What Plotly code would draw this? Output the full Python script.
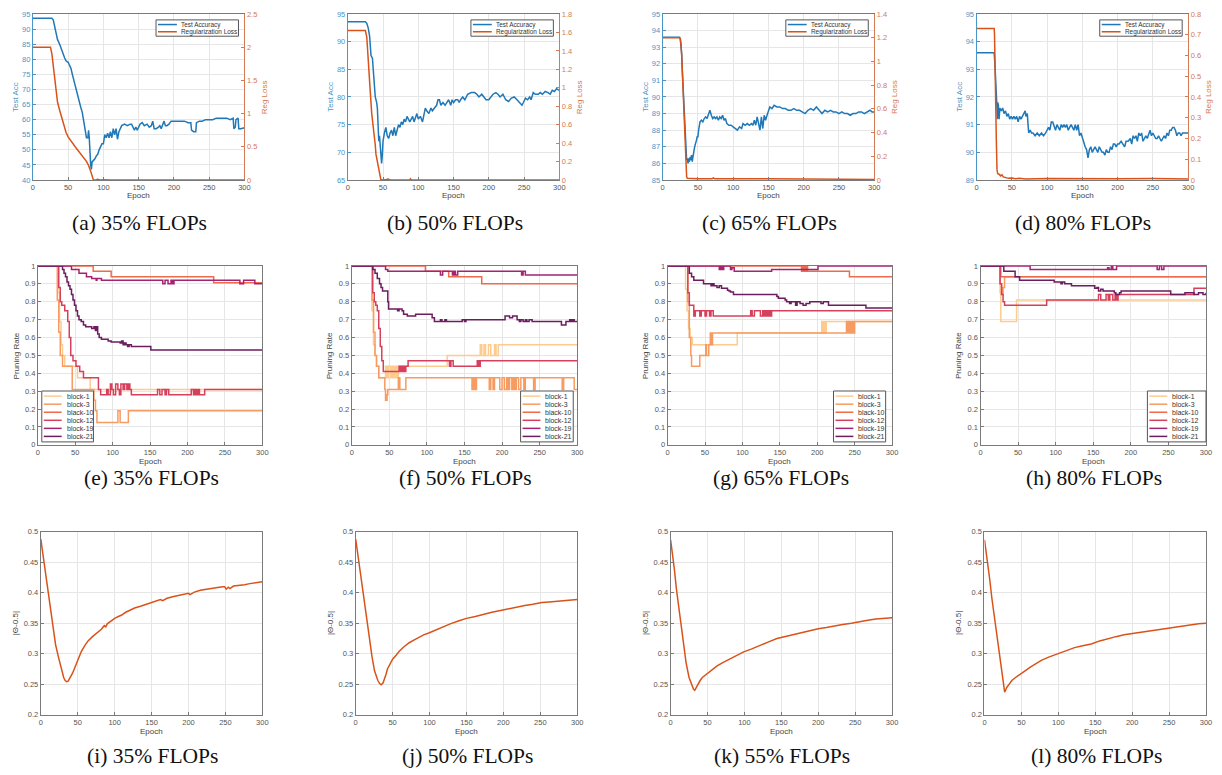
import plotly.graph_objects as go

W, H = 1222, 775
OFF = 8                     # default page margin of the browser body
FW, FH = W - 2 * OFF, H - OFF

# ---------------- Row 1 data: test accuracy / regularization loss ----------------
acc_a = [(0,93.6),(27,93.6),(29,93),(31,91),(33,88),(35,86.5),(38,85),(40,83.5),(43,82),(45,80.5),(47,79.5),(50,79),(52,78),(54,77),(56,75),(58,73),(60,71),(62,69.5),(64,67.5),(66,65.5),(68,64),(70,62.5),(72,60),(74,57),(75,55),(76,54),(78,54),(79,56.5),(80,54),(81,47),(82,45),(83,43.5),(84,46),(86,46.5),(88,47),(90,48),(92,48.5),(94,50),(96,51),(98,52),(100,52),(102,55),(104,54),(106,55.5),(108,54),(110,56),(112,54),(114,57),(116,55),(118,57),(120,53.5),(122,56),(124,57),(126,58),(130,58.5),(134,58),(138,58.5),(140,58.5),(142,57.5),(144,56.5),(146,57.5),(148,56.5),(150,57.5),(152,58.5),(155,59),(158,58),(162,58.5),(165,57.5),(168,58),(170,59.5),(172,57),(175,57),(178,57.5),(180,58),(182,57),(184,58.5),(186,59.5),(188,58),(190,58),(193,58.5),(196,59.5),(200,59.5),(205,59.5),(210,59.5),(215,59.5),(220,59),(224,59),(225,56.5),(228,56),(231,56),(232,59),(236,59.5),(240,59.5),(245,60),(250,60),(255,60),(260,60.5),(265,60.5),(270,60.5),(275,60.5),(280,60),(284,60.5),(285,57),(287,57.5),(288,60),(291,60.5),(292,57),(295,57),(300,57.3)]
reg_a = [(0,2.0),(25,2.0),(27,1.9),(29,1.7),(31,1.5),(33,1.3),(35,1.17),(38,1.05),(41,0.93),(44,0.82),(47,0.72),(50,0.65),(53,0.6),(56,0.55),(60,0.5),(63,0.46),(66,0.42),(70,0.37),(73,0.33),(76,0.28),(79,0.22),(81,0.17),(83,0.1),(85,0.03),(86,0.0),(90,0.005),(92,0.01),(95,0.0),(100,0.005),(110,0.0),(120,0.005),(130,0.0),(300,0.0)]

acc_b = [(0,93.6),(25,93.6),(27,93.3),(29,92.5),(31,91),(32,89),(33,87.5),(35,87),(36,85.5),(38,82),(39,80),(41,79),(42,78),(43,75),(44,72),(45,73),(46,71.5),(47,70),(48,68),(49,69.5),(50,72),(52,73.5),(54,74.5),(56,73),(58,72.5),(60,73.5),(62,74),(64,73),(66,74.5),(68,73),(70,74),(72,75),(74,74.5),(76,75.5),(78,75),(80,76),(82,75.5),(84,76.5),(86,76),(88,75.5),(90,76),(92,76.5),(94,75.5),(96,76.5),(98,77),(100,76),(103,76.5),(106,75.5),(108,76.5),(110,78),(112,77.5),(115,77),(118,78),(120,77.5),(123,78),(126,78.5),(128,79.5),(130,79.5),(132,78.5),(135,79),(138,78.5),(140,79),(143,79.5),(146,78.5),(148,79.5),(150,79),(153,79.5),(156,79.5),(158,79),(160,79.5),(163,80),(166,79.5),(170,80.5),(175,80.8),(180,80.8),(183,80.5),(186,80),(190,80.5),(193,80),(196,79.5),(200,79.5),(203,80),(206,80.5),(210,80.8),(213,80.5),(216,80),(220,80.5),(224,79.5),(228,79.2),(232,79.8),(236,80),(240,79.5),(244,79),(247,78.5),(249,79),(252,79.8),(255,79.5),(258,80),(260,79.5),(263,80.8),(266,80.5),(270,80.5),(273,80.8),(276,80.5),(280,81),(284,80.8),(287,80.5),(290,81.2),(293,81),(296,81.5),(300,81.2)]
reg_b = [(0,1.62),(25,1.62),(27,1.55),(28,1.45),(30,1.2),(32,0.95),(34,0.72),(36,0.6),(38,0.48),(39,0.38),(40,0.28),(42,0.2),(44,0.12),(46,0.04),(47,0.0),(55,0.005),(57,0.01),(60,0.0),(88,0.0),(89,0.012),(90,0.0),(300,0.0)]

acc_c = [(0,93.6),(24,93.6),(25,93.5),(26,93.2),(27,92.6),(28,91.5),(29,90.5),(30,89.3),(31,88.3),(32,87.3),(33,86.6),(34,86.2),(35,86.3),(36,86.0),(37,86.3),(38,86.1),(39,86.4),(40,86.2),(41,86.5),(42,86.1),(43,86.4),(44,86.8),(45,86.9),(46,87.1),(47,87.2),(48,87.4),(49,87.6),(50,87.6),(51,88.0),(52,88.4),(53,88.5),(55,88.6),(57,88.5),(59,88.7),(61,88.8),(63,88.7),(65,89.0),(67,89.2),(69,88.9),(71,88.7),(73,88.8),(75,88.7),(77,88.8),(79,88.6),(81,88.8),(83,88.7),(85,88.9),(87,88.6),(89,88.7),(91,88.4),(94,88.3),(97,88.3),(100,88.2),(103,88.1),(106,88.0),(109,88.2),(112,88.1),(114,88.4),(117,88.3),(120,88.4),(123,88.3),(126,88.4),(128,88.3),(130,88.6),(132,88.3),(134,88.8),(136,88.4),(138,88.0),(140,88.8),(142,88.1),(144,88.9),(146,88.6),(148,88.9),(150,89.2),(152,89.4),(155,89.3),(158,89.5),(162,89.4),(166,89.4),(170,89.3),(174,89.3),(178,89.2),(182,89.2),(186,89.3),(190,89.2),(194,89.2),(198,89.1),(202,89.0),(206,89.2),(210,89.3),(214,89.2),(218,89.4),(222,89.2),(226,89.0),(230,89.2),(234,89.1),(238,89.2),(242,89.1),(246,89.1),(250,89.0),(254,89.1),(258,89.0),(262,89.0),(266,88.9),(270,89.0),(274,89.0),(278,89.1),(282,89.1),(286,89.0),(290,89.1),(294,89.2),(297,89.1),(300,89.1)]
reg_c = [(0,1.2),(24,1.2),(25,1.19),(26,1.15),(27,1.05),(28,0.9),(29,0.75),(30,0.58),(31,0.42),(32,0.28),(33,0.12),(34,0.03),(35,0.015),(40,0.012),(45,0.008),(50,0.01),(70,0.01),(72,0.018),(74,0.01),(100,0.008),(150,0.01),(300,0.005)]

acc_d = [(0,93.6),(25,93.6),(26,93.2),(27,92.8),(28,92.0),(29,91.6),(29.5,91.2),(30,91.8),(31,91.7),(32,91.2),(33,91.6),(35,91.5),(37,91.6),(39,91.4),(41,91.5),(43,91.3),(45,91.4),(47,91.2),(49,91.3),(51,91.2),(53,91.3),(55,91.2),(57,91.3),(59,91.1),(61,91.3),(63,91.2),(65,91.3),(67,91.4),(69,91.5),(70,91.3),(72,91.4),(73,91.0),(74,90.7),(76,90.8),(78,90.7),(80,90.7),(83,90.6),(86,90.7),(89,90.6),(92,90.7),(95,90.6),(98,90.7),(100,90.8),(102,90.9),(104,90.8),(106,91.1),(108,91.1),(110,90.9),(112,90.8),(114,91.0),(116,90.9),(118,90.8),(120,91.0),(122,90.9),(124,91.0),(126,90.9),(128,91.0),(130,90.8),(132,90.9),(134,91.0),(136,90.9),(138,90.8),(140,91.0),(142,90.8),(144,91.0),(146,90.6),(148,90.7),(150,90.5),(152,90.3),(154,90.2),(156,90.1),(158,89.8),(160,90.1),(162,90.2),(164,90.0),(166,90.1),(168,90.2),(170,90.1),(172,90.0),(174,90.2),(176,90.1),(178,90.0),(180,90.0),(182,89.9),(184,90.1),(186,90.0),(188,90.0),(190,90.2),(192,90.1),(194,90.3),(196,90.3),(198,90.2),(200,90.3),(202,90.3),(205,90.4),(208,90.3),(210,90.2),(212,90.4),(215,90.4),(218,90.5),(220,90.3),(222,90.6),(224,90.5),(226,90.6),(228,90.4),(230,90.7),(232,90.6),(234,90.7),(236,90.4),(238,90.5),(240,90.6),(242,90.5),(244,90.7),(246,90.8),(248,90.6),(250,90.7),(252,90.6),(254,90.5),(256,90.5),(258,90.6),(260,90.5),(262,90.4),(264,90.5),(266,90.6),(268,90.5),(270,90.7),(272,90.6),(274,90.8),(276,90.8),(278,90.9),(280,90.9),(282,90.8),(284,90.6),(286,90.7),(288,90.7),(290,90.6),(292,90.7),(294,90.7),(297,90.7),(300,90.7)]
reg_d = [(0,0.73),(25,0.73),(25.5,0.7),(26,0.63),(26.5,0.55),(27,0.4),(27.5,0.3),(28,0.2),(28.5,0.1),(29,0.05),(30,0.03),(32,0.028),(34,0.02),(36,0.025),(38,0.015),(40,0.012),(45,0.008),(50,0.01),(55,0.006),(60,0.008),(70,0.005),(100,0.007),(150,0.005),(200,0.006),(250,0.007),(300,0.005)]

acc_ranges = [(40, 95, 5), (65, 95, 5), (85, 95, 1), (89, 95, 1)]
reg_ranges = [(0, 2.5, 0.5), (0, 1.8, 0.2), (0, 1.4, 0.2), (0, 0.8, 0.1)]

# ---------------- Row 2 data: pruning rate per block (step series) ----------------
block_names = ["block-1", "block-3", "black-10", "block-12", "block-19", "block-21"]
block_colors = ["#FDCB8E", "#F69C62", "#EE6B4D", "#D7405D", "#A52371", "#6B1D5E"]

prune_e = [
    [(0,1),(25,1),(27,0.85),(29,0.69),(31,0.56),(33,0.5),(36,0.44),(53,0.375),(70,0.31),(300,0.31)],
    [(0,1),(24,1),(26,0.81),(28,0.63),(30,0.5),(33,0.44),(46,0.31),(75,0.25),(77,0.19),(79,0.125),(107,0.19),(110,0.125),(121,0.19),(300,0.19)],
    [(0,1),(74,0.97),(98,0.94),(235,0.906),(300,0.906)],
    [(0,1),(26,1),(28,0.88),(30,0.8),(32,0.78),(36,0.75),(40,0.69),(42,0.6),(44,0.5),(47,0.47),(51,0.44),(56,0.41),(61,0.375),(81,0.31),(84,0.28),(92,0.31),(94,0.28),(97,0.34),(99,0.31),(101,0.28),(104,0.34),(107,0.31),(109,0.28),(111,0.34),(114,0.31),(116,0.34),(119,0.31),(121,0.34),(123,0.31),(125,0.28),(160,0.31),(163,0.28),(166,0.31),(170,0.28),(172,0.31),(175,0.28),(205,0.31),(208,0.28),(210,0.31),(212,0.28),(214,0.31),(216,0.28),(223,0.31),(300,0.31)],
    [(0,1),(45,0.98),(55,0.96),(65,0.94),(72,0.93),(78,0.92),(79,0.93),(85,0.92),(167,0.9),(170,0.92),(174,0.9),(178,0.92),(180,0.9),(182,0.92),(270,0.9),(275,0.92),(290,0.9),(300,0.9)],
    [(0,1),(33,0.98),(35,0.96),(37,0.94),(39,0.91),(41,0.89),(43,0.87),(45,0.84),(47,0.81),(49,0.78),(51,0.75),(53,0.72),(55,0.7),(58,0.69),(61,0.67),(64,0.66),(72,0.65),(75,0.66),(77,0.64),(78,0.66),(80,0.62),(82,0.6),(85,0.59),(94,0.58),(98,0.575),(110,0.57),(112,0.58),(114,0.56),(116,0.57),(118,0.56),(120,0.55),(122,0.56),(125,0.55),(151,0.53),(300,0.53)],
]
prune_f = [
    [(0,1),(25,1),(27,0.75),(29,0.56),(31,0.5),(33,0.44),(36,0.375),(45,0.44),(47,0.375),(49,0.44),(52,0.375),(54,0.44),(56,0.375),(58,0.44),(60,0.375),(62,0.44),(127,0.5),(171,0.56),(173,0.5),(176,0.56),(178,0.5),(182,0.56),(185,0.5),(190,0.56),(192,0.5),(195,0.56),(300,0.56)],
    [(0,1),(25,1),(27,0.81),(29,0.63),(31,0.5),(33,0.44),(36,0.375),(44,0.31),(45,0.25),(47,0.28),(48,0.31),(62,0.375),(64,0.31),(72,0.375),(160,0.31),(162,0.375),(164,0.31),(166,0.375),(183,0.31),(185,0.375),(188,0.31),(190,0.375),(197,0.31),(200,0.375),(203,0.31),(206,0.375),(208,0.31),(210,0.375),(213,0.31),(215,0.375),(217,0.31),(219,0.375),(222,0.31),(225,0.375),(229,0.31),(231,0.375),(242,0.31),(244,0.375),(280,0.31),(282,0.375),(296,0.31),(300,0.31)],
    [(0,1),(98,0.97),(129,0.94),(173,0.9),(300,0.9)],
    [(0,1),(27,1),(28,0.85),(30,0.8),(32,0.78),(34,0.75),(36,0.65),(38,0.55),(40,0.47),(42,0.41),(63,0.44),(64,0.41),(66,0.44),(67,0.41),(69,0.44),(70,0.41),(72,0.44),(75,0.47),(130,0.44),(132,0.47),(135,0.44),(167,0.47),(169,0.44),(171,0.47),(300,0.47)],
    [(0,1),(45,0.98),(48,0.97),(118,0.95),(121,0.97),(134,0.95),(136,0.97),(138,0.95),(141,0.97),(226,0.95),(228,0.97),(231,0.95),(300,0.95)],
    [(0,1),(28,0.98),(31,0.96),(34,0.93),(37,0.9),(39,0.88),(41,0.86),(48,0.8),(49,0.76),(61,0.75),(63,0.76),(67,0.75),(69,0.73),(74,0.72),(85,0.73),(107,0.71),(110,0.69),(118,0.7),(120,0.69),(124,0.7),(126,0.69),(147,0.7),(150,0.69),(152,0.7),(204,0.72),(210,0.71),(214,0.72),(220,0.7),(223,0.69),(225,0.7),(228,0.69),(231,0.7),(233,0.69),(236,0.7),(240,0.69),(279,0.67),(285,0.69),(290,0.7),(292,0.69),(294,0.7),(296,0.69),(300,0.69)],
]
prune_g = [
    [(0,1),(22,1),(24,0.87),(26,0.75),(28,0.65),(30,0.6),(33,0.56),(93,0.625),(206,0.69),(207,0.625),(209,0.69),(211,0.625),(212,0.69),(300,0.69)],
    [(0,1),(25,1),(27,0.8),(29,0.6),(31,0.5),(32,0.44),(43,0.5),(51,0.56),(52,0.5),(55,0.56),(57,0.625),(58,0.56),(60,0.625),(239,0.69),(241,0.625),(243,0.69),(245,0.625),(247,0.69),(249,0.625),(250,0.69),(300,0.69)],
    [(0,1),(179,0.97),(181,1),(183,0.97),(185,1),(187,0.97),(243,0.94),(300,0.94)],
    [(0,1),(25,1),(27,0.85),(29,0.78),(35,0.72),(37,0.75),(43,0.72),(45,0.75),(50,0.72),(52,0.75),(56,0.72),(58,0.75),(61,0.72),(111,0.75),(113,0.72),(116,0.75),(124,0.72),(127,0.75),(129,0.72),(131,0.75),(133,0.72),(135,0.75),(137,0.72),(139,0.75),(300,0.75)],
    [(0,1),(69,0.98),(71,1),(73,0.98),(75,1),(84,0.98),(86,0.99),(89,0.97),(139,0.98),(201,1),(300,1)],
    [(0,1),(27,1),(29,0.96),(32,0.94),(35,0.92),(48,0.9),(58,0.89),(60,0.9),(62,0.89),(66,0.88),(69,0.89),(72,0.875),(80,0.865),(82,0.86),(84,0.855),(88,0.84),(146,0.83),(148,0.82),(157,0.81),(159,0.8),(163,0.79),(165,0.8),(171,0.78),(173,0.8),(177,0.79),(181,0.78),(185,0.79),(190,0.8),(205,0.79),(208,0.8),(215,0.78),(265,0.765),(300,0.765)],
]
prune_h = [
    [(0,1),(24,1),(26,0.85),(27,0.69),(48,0.81),(300,0.81)],
    [(0,1),(24,1),(26,0.9),(28,0.84),(30,0.88),(32,0.94),(300,0.94)],
    [(0,1),(25,1),(27,0.94),(300,0.94)],
    [(0,1),(24,1),(26,0.9),(28,0.84),(30,0.8),(32,0.78),(88,0.81),(157,0.84),(160,0.81),(167,0.84),(170,0.81),(172,0.84),(176,0.81),(179,0.84),(181,0.81),(183,0.84),(284,0.875),(300,0.875)],
    [(0,1),(66,0.98),(169,0.99),(171,0.98),(174,1),(176,0.98),(181,1),(235,0.98),(238,1),(241,0.98),(244,1),(300,1)],
    [(0,1),(30,1),(31,0.97),(46,0.94),(52,0.92),(98,0.91),(107,0.9),(109,0.91),(112,0.9),(121,0.89),(152,0.875),(155,0.88),(157,0.86),(160,0.87),(163,0.86),(178,0.85),(180,0.84),(185,0.85),(187,0.86),(253,0.84),(272,0.85),(284,0.84),(290,0.85),(296,0.84),(300,0.85)],
]

# ---------------- Row 3 data: |Theta - 0.5| ----------------
theta_i = [(0,0.488),(2,0.47),(4,0.452),(7,0.425),(10,0.396),(14,0.362),(17,0.337),(20,0.315),(24,0.294),(28,0.272),(31,0.261),(33,0.256),(35,0.254),(37,0.255),(40,0.261),(43,0.268),(46,0.277),(50,0.29),(55,0.304),(60,0.314),(64,0.321),(70,0.328),(75,0.333),(82,0.34),(86,0.346),(88,0.344),(90,0.349),(95,0.354),(100,0.358),(105,0.361),(109,0.363),(115,0.368),(120,0.371),(127,0.375),(135,0.378),(142,0.381),(149,0.384),(156,0.386),(162,0.389),(165,0.387),(171,0.391),(180,0.394),(188,0.396),(194,0.397),(200,0.399),(202,0.397),(208,0.401),(216,0.404),(225,0.406),(232,0.407),(239,0.408),(246,0.41),(249,0.41),(251,0.406),(254,0.409),(256,0.407),(261,0.411),(270,0.412),(276,0.413),(283,0.415),(290,0.416),(300,0.418)]
theta_j = [(0,0.488),(2,0.47),(5.4,0.44),(8,0.415),(12,0.38),(16,0.345),(19,0.32),(22,0.296),(25.5,0.272),(28,0.262),(30,0.256),(32.5,0.251),(34.5,0.249),(37,0.252),(39,0.258),(41,0.266),(43,0.275),(46,0.283),(50,0.291),(55,0.298),(59,0.304),(65,0.311),(72.5,0.318),(80,0.323),(86,0.327),(92,0.331),(99,0.334),(108,0.339),(117,0.343),(128,0.349),(140,0.354),(150,0.358),(162,0.361),(173,0.365),(184.5,0.368),(196,0.371),(207,0.374),(218,0.377),(229,0.379),(240,0.381),(252,0.384),(262,0.385),(274,0.386),(287,0.388),(300,0.389)]
theta_k = [(0,0.487),(2,0.47),(5,0.44),(8,0.405),(11.6,0.37),(15,0.34),(18,0.31),(21,0.285),(25,0.261),(28,0.25),(29.6,0.245),(31,0.242),(32.7,0.24),(34,0.243),(36,0.249),(40,0.256),(43,0.261),(50,0.268),(56,0.274),(63,0.28),(70,0.285),(76.6,0.289),(88,0.296),(99,0.303),(110,0.308),(121,0.314),(132,0.319),(144,0.325),(155,0.328),(166,0.331),(177,0.335),(188.5,0.338),(200,0.341),(211,0.343),(222,0.346),(233,0.348),(245,0.35),(256,0.353),(267,0.355),(278,0.357),(289,0.358),(300,0.359)]
theta_l = [(0,0.487),(2,0.47),(3.6,0.456),(7,0.423),(10,0.391),(14,0.355),(17,0.326),(20,0.298),(23.7,0.267),(26,0.248),(27.3,0.237),(28.5,0.24),(30.4,0.245),(34,0.251),(37,0.256),(42,0.261),(46,0.264),(50,0.268),(55,0.272),(62,0.278),(68.5,0.283),(77,0.289),(86,0.294),(93,0.297),(100,0.3),(111,0.305),(122,0.31),(133,0.313),(144.6,0.316),(156,0.321),(167,0.325),(178,0.328),(189,0.331),(200,0.333),(212,0.336),(223,0.338),(234,0.34),(245,0.342),(256.6,0.344),(268,0.346),(279,0.347),(290,0.349),(300,0.35)]

captions_row1 = ["(a) 35% FLOPs", "(b) 50% FLOPs", "(c) 65% FLOPs", "(d) 80% FLOPs"]
captions_row2 = ["(e) 35% FLOPs", "(f) 50% FLOPs", "(g) 65% FLOPs", "(h) 80% FLOPs"]
captions_row3 = ["(i) 35% FLOPs", "(j) 50% FLOPs", "(k) 55% FLOPs", "(l) 80% FLOPs"]

# ---------------- layout geometry (pixels on the page) ----------------
row1_x = [(31, 244), (348, 561), (665, 878), (981, 1194)]
row2_x = [(36, 262), (352, 579), (670, 896), (985, 1212)]
row3_x = [(39, 262), (356, 579), (673, 896), (989, 1212)]
row1_y = (10, 178)
row2_y = (265, 446)
row3_y = (534, 719)

BLUE_LINE = "#1F78B8"
BLUE_TXT = "#4A95C8"
ORANGE_LINE = "#D95319"
ORANGE_TXT = "#D47A55"
GRID = "#E6E6E6"
FRAME = "#7A7A7A"
TICKTXT = "#555555"
SANS = "Liberation Sans, Arial, sans-serif"
SERIF = "Liberation Serif, Times New Roman, serif"


def px(x):
    return (x - OFF) / FW


def py(y):
    return 1 - (y - OFF) / FH


def xdom(a, b):
    return [px(a), px(b)]


def ydom(top, bottom):
    return [py(bottom), py(top)]


def split(pairs):
    return [p[0] for p in pairs], [p[1] for p in pairs]


fig = go.Figure()
layout = dict(width=FW, height=FH, margin=dict(l=0, r=0, t=0, b=0),
              paper_bgcolor="white", plot_bgcolor="white", showlegend=False)
shapes = []
annotations = []


def xaxis_cfg(xr, yname):
    return dict(domain=xdom(*xr), range=[0, 300], dtick=50, anchor=yname,
                showgrid=True, gridcolor=GRID, gridwidth=1, zeroline=False,
                showline=True, linecolor=FRAME, linewidth=1, mirror=True,
                ticks="inside", ticklen=3, tickcolor=FRAME,
                tickfont=dict(family=SANS, size=7.5, color=TICKTXT))


def yaxis_cfg(yr, xname, rng, dt, color=FRAME, txt=TICKTXT, mirror=True):
    return dict(domain=ydom(*yr), range=list(rng), dtick=dt, anchor=xname,
                showgrid=True, gridcolor=GRID, gridwidth=1, zeroline=False,
                showline=True, linecolor=color, linewidth=1, mirror=mirror,
                ticks="inside", ticklen=3, tickcolor=color,
                tickfont=dict(family=SANS, size=7.5, color=txt))


def text(x, y, s, size, color="#333333", family=SANS, angle=0, xanchor="center"):
    annotations.append(dict(x=px(x), y=py(y), xref="paper", yref="paper", text=s,
                            showarrow=False, textangle=angle, xanchor=xanchor,
                            yanchor="middle", font=dict(family=family, size=size, color=color)))


# ---------------- Row 1 ----------------
accs = [acc_a, acc_b, acc_c, acc_d]
regs = [reg_a, reg_b, reg_c, reg_d]
for i in range(4):
    n = i + 1
    xn, yl, yr_ = f"x{n}", f"y{n}", f"y{n + 12}"
    layout[f"xaxis{n}"] = xaxis_cfg(row1_x[i], yl)
    lo, hi, dt = acc_ranges[i]
    layout[f"yaxis{n}"] = yaxis_cfg(row1_y, xn, (lo, hi), dt, color=BLUE_TXT, txt=BLUE_TXT, mirror=False)
    rlo, rhi, rdt = reg_ranges[i]
    layout[f"yaxis{n + 12}"] = dict(domain=ydom(*row1_y), range=[rlo, rhi], dtick=rdt,
                                    anchor=xn, overlaying=yl, side="right", showgrid=False,
                                    zeroline=False, showline=True, linecolor=ORANGE_TXT, linewidth=1,
                                    ticks="inside", ticklen=3, tickcolor=ORANGE_TXT,
                                    tickfont=dict(family=SANS, size=7.5, color=ORANGE_TXT))
    ex, ev = split(accs[i])
    fig.add_trace(go.Scatter(x=ex, y=ev, mode="lines", line=dict(color=BLUE_LINE, width=1.5),
                             xaxis=xn, yaxis=yl, name="Test Accuracy"))
    ex, ev = split(regs[i])
    fig.add_trace(go.Scatter(x=ex, y=ev, mode="lines", line=dict(color=ORANGE_LINE, width=1.5),
                             xaxis=xn, yaxis=yr_, name="Regularization Loss"))
    l, r = row1_x[i]
    text((l + r) / 2, 194, "Epoch", 8, "#444444")
    text(l - 17, (row1_y[0] + row1_y[1]) / 2, "Test Acc", 8, BLUE_TXT, angle=-90)
    text(r + 21, (row1_y[0] + row1_y[1]) / 2, "Reg Loss", 8, ORANGE_TXT, angle=-90)
    text((l + r) / 2 + 1, 221, captions_row1[i], 21.5, "#111111", SERIF)
    bx0, bx1, by0, by1 = r - 89, r - 6, 16, 32.5
    shapes.append(dict(type="rect", xref="paper", yref="paper", x0=px(bx0), x1=px(bx1),
                       y0=py(by1), y1=py(by0), line=dict(color="#555555", width=1), fillcolor="white"))
    for k, (lab, col) in enumerate([("Test Accuracy", BLUE_LINE), ("Regularization Loss", ORANGE_LINE)]):
        yy = by0 + 4.7 + k * 7.3
        shapes.append(dict(type="line", xref="paper", yref="paper", x0=px(bx0 + 2), x1=px(bx0 + 21),
                           y0=py(yy), y1=py(yy), line=dict(color=col, width=1.5)))
        text(bx0 + 23.5, yy, lab, 6.4, "#333333", xanchor="left")

# ---------------- Row 2 ----------------
prunes = [prune_e, prune_f, prune_g, prune_h]
legend_x = [40, 522, 837, 1153]
legend_w = [52, 53, 52.5, 59]
for i in range(4):
    n = i + 5
    xn, yn = f"x{n}", f"y{n}"
    layout[f"xaxis{n}"] = xaxis_cfg(row2_x[i], yn)
    layout[f"yaxis{n}"] = yaxis_cfg(row2_y, xn, (0, 1), 0.1)
    for b in range(6):
        ex, ev = split(prunes[i][b])
        fig.add_trace(go.Scatter(x=ex, y=ev, mode="lines", line=dict(color=block_colors[b], width=1.5, shape="hv"),
                                 xaxis=xn, yaxis=yn, name=block_names[b]))
    l, r = row2_x[i]
    text((l + r) / 2, 463, "Epoch", 8, "#444444")
    text(l - 22, (row2_y[0] + row2_y[1]) / 2, "Pruning Rate", 8, "#444444", angle=-90)
    text((l + r) / 2 + 1, 480, captions_row2[i], 21.5, "#111111", SERIF)
    bx0 = legend_x[i]
    bx1 = bx0 + legend_w[i]
    by0, by1 = 391.5, 443
    shapes.append(dict(type="rect", xref="paper", yref="paper", x0=px(bx0), x1=px(bx1),
                       y0=py(by1), y1=py(by0), line=dict(color="#555555", width=1), fillcolor="white"))
    for b in range(6):
        yy = by0 + 5.2 + b * 8.15
        shapes.append(dict(type="line", xref="paper", yref="paper", x0=px(bx0 + 2), x1=px(bx0 + 20),
                           y0=py(yy), y1=py(yy), line=dict(color=block_colors[b], width=1.5)))
        text(bx0 + 23, yy, block_names[b], 7, "#333333", xanchor="left")

# ---------------- Row 3 ----------------
thetas = [theta_i, theta_j, theta_k, theta_l]
for i in range(4):
    n = i + 9
    xn, yn = f"x{n}", f"y{n}"
    layout[f"xaxis{n}"] = xaxis_cfg(row3_x[i], yn)
    layout[f"yaxis{n}"] = yaxis_cfg(row3_y, xn, (0.2, 0.5), 0.05)
    ex, ev = split(thetas[i])
    fig.add_trace(go.Scatter(x=ex, y=ev, mode="lines", line=dict(color=ORANGE_LINE, width=1.5),
                             xaxis=xn, yaxis=yn, name="theta"))
    l, r = row3_x[i]
    text((l + r) / 2, 736, "Epoch", 8, "#444444")
    text(l - 26, (row3_y[0] + row3_y[1]) / 2, "|Θ-0.5|", 8, "#444444", angle=-90)
    text((l + r) / 2 + 1, 761, captions_row3[i], 21.5, "#111111", SERIF)

layout["shapes"] = shapes
layout["annotations"] = annotations
fig.update_layout(**layout)
fig.write_html("out.html")
